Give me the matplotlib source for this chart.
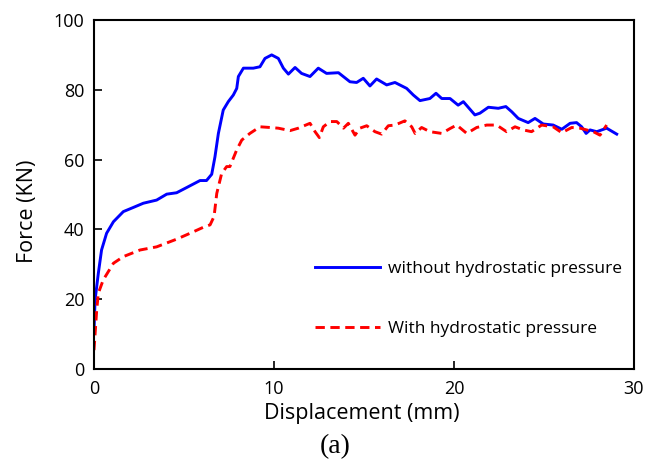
import matplotlib
matplotlib.use("Agg")
import matplotlib.pyplot as plt

# force-displacement curves, read from the test record
disp_dry = [0.0, 0.06, 0.24, 0.42, 0.70, 1.08, 1.63, 2.19, 2.74, 3.48, 4.04, 4.59,
            5.15, 5.89, 6.25, 6.54, 6.72, 6.91, 7.18, 7.46, 7.74, 7.93, 8.02, 8.30,
            8.85, 9.22, 9.50, 9.87, 10.24, 10.52, 10.80, 11.17, 11.53, 12.00, 12.46,
            12.92, 13.58, 14.22, 14.59, 14.96, 15.33, 15.70, 16.26, 16.72, 17.37,
            17.74, 18.11, 18.66, 19.00, 19.32, 19.78, 20.23, 20.52, 21.16, 21.44,
            21.91, 22.46, 22.88, 23.21, 23.57, 24.12, 24.50, 24.96, 25.51, 25.99,
            26.45, 26.81, 27.09, 27.34, 27.56, 27.93, 28.48, 29.04]
force_dry = [11.0, 19.8, 27.4, 34.1, 38.9, 42.2, 45.1, 46.3, 47.5, 48.4, 50.1, 50.5,
             52.0, 54.0, 54.0, 55.8, 60.8, 67.5, 74.2, 76.6, 78.5, 80.4, 83.8, 86.2,
             86.2, 86.6, 89.0, 90.0, 89.0, 86.2, 84.5, 86.4, 84.7, 83.8, 86.2,
             84.7, 84.9, 82.3, 82.1, 83.3, 81.1, 83.1, 81.4, 82.1, 80.4,
             78.5, 76.9, 77.5, 79.0, 77.5, 77.5, 75.6, 76.6, 72.8, 73.3,
             75.0, 74.7, 75.2, 73.7, 71.8, 70.6, 71.8, 70.2, 69.9, 68.7,
             70.4, 70.6, 69.4, 67.5, 68.5, 68.0, 69.0, 67.3]

disp_hyd = [0.0, 0.15, 0.24, 0.51, 1.08, 1.63, 2.56, 3.48, 4.59, 5.34, 6.07, 6.45,
            6.67, 6.82, 7.09, 7.37, 7.55, 7.93, 8.21, 8.66, 9.22, 9.78, 10.24, 10.89,
            11.35, 12.00, 12.28, 12.52, 12.74, 13.11, 13.49, 13.86, 14.13, 14.50,
            14.77, 15.15, 15.61, 15.98, 16.35, 16.72, 17.27, 17.65, 17.84, 18.20,
            18.66, 19.32, 19.78, 20.15, 20.71, 21.26, 21.82, 22.37, 22.92, 23.39,
            23.85, 24.31, 24.87, 25.51, 25.99, 26.54, 27.00, 27.37, 27.74, 28.11, 28.48]
force_hyd = [5.4, 16.9, 21.7, 25.5, 30.3, 32.2, 34.1, 35.0, 37.2, 38.9, 40.6, 41.3,
             43.7, 50.3, 56.0, 58.0, 58.0, 62.8, 65.6, 67.5, 69.4, 69.2, 69.0, 68.3,
             69.0, 70.4, 68.0, 66.3, 69.4, 70.9, 70.9, 69.0, 70.4, 67.0,
             69.0, 69.7, 68.0, 67.3, 69.7, 69.9, 71.1, 69.4, 67.5, 69.2,
             68.0, 67.5, 68.9, 69.9, 67.5, 69.2, 69.9, 69.9, 68.0, 69.4,
             68.5, 68.0, 69.9, 69.4, 67.7, 69.2, 69.0, 68.5, 68.0, 67.0, 69.9]

x_ticks = [0, 10, 20, 30]
y_ticks = [0, 20, 40, 60, 80, 100]

plt.rcParams['font.family'] = ['Open Sans', 'DejaVu Sans']

fig = plt.figure(figsize=(6.6, 4.61), dpi=100)
ax = fig.add_axes([94 / 660, 1 - 369 / 461, 540 / 660, 349 / 461])

ax.plot(disp_dry, force_dry, color='#0000ff', lw=2.1,
        label='without hydrostatic pressure')
ax.plot(disp_hyd, force_hyd, color='#ff0000', lw=2.1, linestyle=(0, (3.2, 1.9)),
        label='With hydrostatic pressure')

ax.set_xlim(0, 30)
ax.set_ylim(0, 100)
ax.set_xticks(x_ticks)
ax.set_yticks(y_ticks)
ax.tick_params(direction='in', length=6, width=1.2, labelsize=13)
ax.tick_params(axis='x', pad=8)
ax.tick_params(axis='y', pad=7)
for sp in ax.spines.values():
    sp.set_linewidth(1.5)

# axis titles placed by pixel position
fig.text(362 / 660, 1 - 413 / 461, 'Displacement (mm)', ha='center', va='center',
         fontsize=15.5)
fig.text(27 / 660, 1 - 211 / 461, 'Force (KN)', ha='center', va='center',
         rotation=90, fontsize=15.5)

ax.legend(loc='center left', bbox_to_anchor=(315 / 660, 1 - 299 / 461),
          bbox_transform=fig.transFigure, frameon=False, fontsize=12.5,
          handlelength=3.75, handletextpad=0.45, labelspacing=2.55,
          borderpad=0, borderaxespad=0)

fig.text(335 / 660, 1 - 447 / 461, '(a)', ha='center', va='center',
         fontsize=20, family='Liberation Serif')

fig.savefig('out.png', dpi=100)
